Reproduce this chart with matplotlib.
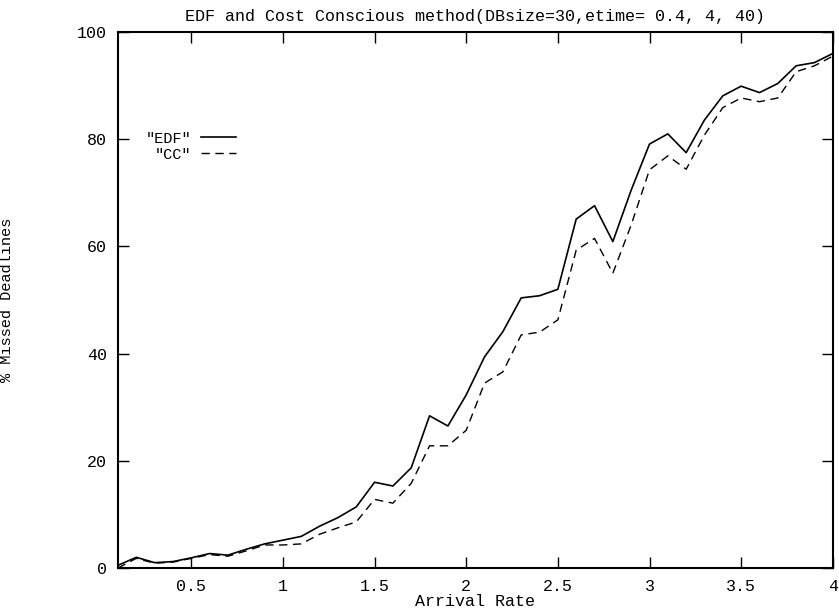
import matplotlib
matplotlib.use('Agg')
import matplotlib.pyplot as plt

plt.rcParams['font.family'] = ['Liberation Mono', 'DejaVu Sans Mono']

# arrival rate 0.1 .. 4.0
rate = [round(0.1 * i, 1) for i in range(1, 41)]
edf = [0.5, 2.0, 1.0, 1.2, 1.9, 2.7, 2.4, 3.5, 4.5, 5.2,
       5.9, 7.8, 9.4, 11.4, 16.0, 15.3, 18.7, 28.4, 26.5, 32.3,
       39.4, 44.1, 50.4, 50.8, 52.0, 65.1, 67.6, 60.9, 70.5, 79.1,
       81.0, 77.5, 83.6, 88.1, 89.9, 88.7, 90.4, 93.7, 94.3, 96.0]
cc = [0.0, 1.8, 0.9, 1.1, 1.8, 2.5, 2.2, 3.2, 4.3, 4.3,
      4.5, 6.3, 7.5, 8.6, 12.8, 12.1, 15.8, 22.8, 22.8, 25.7,
      34.5, 36.6, 43.5, 44.0, 46.3, 59.3, 61.5, 55.0, 64.0, 74.3,
      76.9, 74.4, 80.8, 85.9, 87.7, 87.0, 87.7, 92.6, 93.7, 95.5]

xticks = [0.5, 1, 1.5, 2, 2.5, 3, 3.5, 4]
xticklabels = ['0.5', '1', '1.5', '2', '2.5', '3', '3.5', '4']
yticks = [0, 20, 40, 60, 80, 100]

fig = plt.figure(figsize=(8.39, 6.15), dpi=100)
ax = fig.add_axes([0.1406, 0.0764, 0.852, 0.8715])

ax.plot(rate, edf, color='black', lw=1.2, label='"EDF"')
ax.plot(rate, cc, color='black', lw=1.0, dashes=(6, 4), label='"CC"')

ax.set_xlim(0.1, 4)
ax.set_ylim(0, 100)
ax.set_xticks(xticks)
ax.set_xticklabels(xticklabels)
ax.set_yticks(yticks)
ax.tick_params(direction='in', length=8, width=1, top=True, right=True,
               labelsize=12, pad=8)
for s in ax.spines.values():
    s.set_linewidth(1.5)

ax.set_title('EDF and Cost Conscious method(DBsize=30,etime= 0.4, 4, 40)',
             fontsize=12, pad=8)
ax.set_xlabel('Arrival Rate', fontsize=12, labelpad=0)
ax.set_ylabel('% Missed Deadlines', fontsize=11)
ax.yaxis.set_label_coords(-0.145, 0.5)

ax.legend(loc='upper left', bbox_to_anchor=(0.02, 0.84), frameon=False,
          markerfirst=False, fontsize=11, handlelength=2.3,
          handletextpad=0.6, labelspacing=0.15, alignment='right')

fig.savefig('out.png', dpi=100)
